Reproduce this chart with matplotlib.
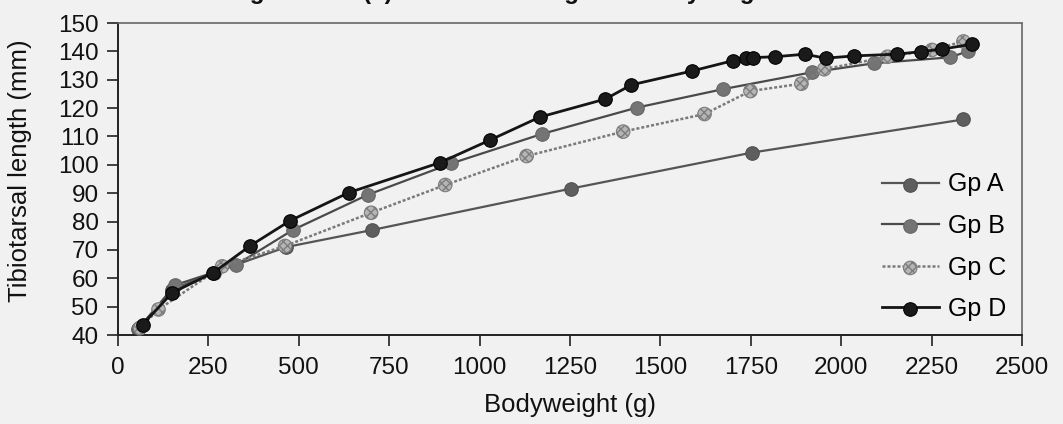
import matplotlib
matplotlib.use("Agg")
import matplotlib.pyplot as plt
from matplotlib.legend_handler import HandlerTuple

plt.rcParams['font.family'] = ['Liberation Sans', 'DejaVu Sans']

# Bodyweight (g) and tibiotarsal length (mm) for each group
a_weight = [55, 150, 265, 465, 702, 1252, 1753, 2338]
a_length = [42.0, 56.0, 62.0, 71.0, 77.0, 91.6, 104.3, 116.0]

b_weight = [58, 158, 325, 483, 690, 922, 1173, 1436, 1674, 1918, 2091, 2301, 2352]
b_length = [42.5, 57.6, 64.6, 77.0, 89.4, 100.5, 110.9, 120.2, 126.7, 132.6, 135.8, 137.9, 140.1]

c_weight = [61, 112, 288, 462, 700, 905, 1130, 1397, 1622, 1749, 1890, 1953, 2128, 2251, 2338]
c_length = [42.5, 49.0, 64.2, 71.4, 83.1, 92.9, 103.1, 111.7, 117.9, 126.0, 128.6, 133.7, 138.1, 140.5, 143.5]

d_weight = [68, 150, 264, 365, 476, 638, 891, 1030, 1166, 1348, 1420, 1588, 1700, 1736,
            1757, 1817, 1899, 1957, 2036, 2153, 2220, 2280, 2361]
d_length = [43.7, 54.9, 62.0, 71.4, 80.3, 90.2, 100.8, 108.8, 116.8, 123.2, 128.2, 133.1,
            136.7, 137.8, 137.8, 138.1, 139.0, 137.6, 138.4, 139.0, 139.9, 140.8, 142.5]

group_names = ['Gp A', 'Gp B', 'Gp C', 'Gp D']
x_ticks = [0, 250, 500, 750, 1000, 1250, 1500, 1750, 2000, 2250, 2500]
y_ticks = [40, 50, 60, 70, 80, 90, 100, 110, 120, 130, 140, 150]

bg = '#f1f1f1'
fig = plt.figure(figsize=(10.63, 4.24), dpi=100, facecolor=bg)
ax = fig.add_axes([118 / 1063, 1 - 335 / 424, (1022 - 118) / 1063, (335 - 23) / 424])
ax.set_facecolor(bg)

styles = [
    dict(x=a_weight, y=a_length, lc='#555555', ls='-', lw=1.6, fc='#5e5e5e', ec='#505050', hatch=None),
    dict(x=b_weight, y=b_length, lc='#4a4a4a', ls='-', lw=1.6, fc='#747474', ec='#666666', hatch=None),
    dict(x=c_weight, y=c_length, lc='#7a7a7a', ls=(0, (1.2, 0.8)), lw=1.8, fc='#b5b5b5', ec='#7d7d7d', hatch='xxxx'),
    dict(x=d_weight, y=d_length, lc='#151515', ls='-', lw=2.0, fc='#1a1a1a', ec='#000000', hatch=None),
]

handles = []
for i, s in enumerate(styles):
    line, = ax.plot(s['x'], s['y'], color=s['lc'], ls=s['ls'], lw=s['lw'], zorder=2 + i)
    sc = ax.scatter(s['x'], s['y'], s=95, facecolor=s['fc'], edgecolor=s['ec'],
                    linewidths=0.8, hatch=s['hatch'], zorder=2.5 + i)
    handles.append((line, sc))

ax.set_xlim(0, 2500)
ax.set_ylim(40, 150)
ax.set_xticks(x_ticks)
ax.set_yticks(y_ticks)
ax.set_xticklabels([str(t) for t in x_ticks])
ax.set_yticklabels([str(t) for t in y_ticks])
ax.tick_params(axis='both', direction='out', length=8, width=1.2, color='#222222',
               labelsize=17.5, labelcolor='#111111')
ax.tick_params(axis='x', pad=8)
ax.tick_params(axis='y', pad=6)

for side in ('left', 'bottom'):
    ax.spines[side].set_color('#222222')
    ax.spines[side].set_linewidth(1.4)
for side in ('top', 'right'):
    ax.spines[side].set_color('#666666')
    ax.spines[side].set_linewidth(1.2)
    ax.spines[side].set_linestyle((0, (1, 1)))

leg = ax.legend(handles, group_names, handler_map={tuple: HandlerTuple(ndivide=1)},
                loc='upper left', bbox_to_anchor=(864 / 1063, 1 - 155 / 424),
                bbox_transform=fig.transFigure, frameon=False, fontsize=18,
                handlelength=2.3, handletextpad=0.35, labelspacing=0.7,
                scatterpoints=1, borderpad=0.2)

fig.text(570 / 1063, 1 - 412 / 424, 'Bodyweight (g)', ha='center', va='baseline',
         fontsize=18.5, color='#111111')
fig.text(20 / 1063, 1 - 171 / 424, 'Tibiotarsal length (mm)', ha='center', va='center',
         rotation=90, fontsize=18.5, color='#111111')

# Chart heading sits almost entirely above the top edge of the canvas
fig.text(228 / 1063, 1 + 1 / 424, 'Figure 4.12 (a) Tibiotarsal length vs bodyweight',
         ha='left', va='baseline', fontsize=17.5, fontweight='bold', color='#111111')

fig.savefig('out.png', dpi=100, facecolor=bg)
